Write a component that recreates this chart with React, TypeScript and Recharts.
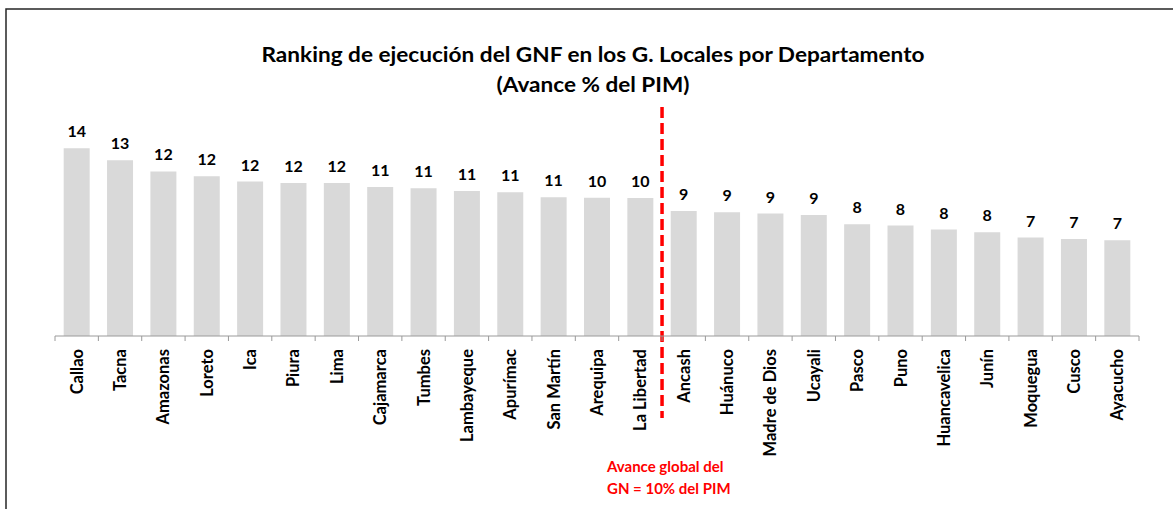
import React from "react";
import { Bar, BarChart, LabelList, ReferenceLine, XAxis, YAxis } from "recharts";

const departamentos = [
  "Callao", "Tacna", "Amazonas", "Loreto", "Ica", "Piura", "Lima", "Cajamarca",
  "Tumbes", "Lambayeque", "Apurímac", "San Martín", "Arequipa", "La Libertad",
  "Ancash", "Huánuco", "Madre de Dios", "Ucayali", "Pasco", "Puno",
  "Huancavelica", "Junín", "Moquegua", "Cusco", "Ayacucho",
];

const avance = [
  14.24, 13.33, 12.48, 12.12, 11.71, 11.61, 11.6, 11.3,
  11.2, 11.0, 10.9, 10.52, 10.48, 10.47,
  9.48, 9.38, 9.28, 9.18, 8.47, 8.37,
  8.07, 7.87, 7.46, 7.36, 7.26,
];

// último departamento por encima del avance global del GN
const corte = "La Libertad";
const notaCorte = ["Avance global del", "GN = 10% del PIM"];
const titulo = [
  "Ranking de ejecución del GNF en los G. Locales por Departamento",
  "(Avance % del PIM)",
];

const data = departamentos.map((name, i) => ({ name, value: avance[i] }));

const W = 1173;
const H = 509;
const MARGIN = { top: 125, right: 34, bottom: 0, left: 55 };
const BAND = (W - MARGIN.left - MARGIN.right) / departamentos.length;
const AXIS = "#9a9a9a";
const FONT = "Lato, 'Open Sans', sans-serif";

function DeptTick(props: any) {
  const { x, y, payload, index } = props;
  const ty = y + 13;
  return (
    <g>
      <line x1={x - BAND / 2} x2={x - BAND / 2} y1={y} y2={y + 5} stroke={AXIS} />
      {index === departamentos.length - 1 && (
        <line x1={x + BAND / 2} x2={x + BAND / 2} y1={y} y2={y + 5} stroke={AXIS} />
      )}
      <text
        x={x}
        y={ty}
        transform={`rotate(-90 ${x} ${ty})`}
        textAnchor="end"
        dominantBaseline="central"
        fontFamily={FONT}
        fontWeight={700}
        fontSize={16.5}
        fill="#000"
      >
        {payload.value}
      </text>
    </g>
  );
}

function CorteLine(props: any) {
  const { x1, y1, y2 } = props;
  const x = x1 + BAND / 2;
  const top = Math.min(y1, y2);
  const bottom = Math.max(y1, y2);
  return (
    <g>
      <line
        x1={x}
        x2={x}
        y1={top - 18}
        y2={bottom + 82}
        stroke="#ff0000"
        strokeWidth={3.5}
        strokeDasharray="11 5"
      />
      {notaCorte.map((t, i) => (
        <text
          key={t}
          x={x - 55}
          y={bottom + 136 + i * 22}
          fontFamily={FONT}
          fontWeight={700}
          fontSize={15}
          fill="#ff0000"
        >
          {t}
        </text>
      ))}
    </g>
  );
}

export default function App() {
  return (
    <div style={{ position: "absolute", left: 0, top: 0, width: W, height: H, background: "#fff" }}>
      <BarChart width={W} height={H} data={data} margin={MARGIN} barCategoryGap="20%">
        <YAxis hide domain={[0, 16]} />
        <XAxis
          dataKey="name"
          interval={0}
          height={173}
          tickSize={0}
          tickMargin={0}
          tickLine={false}
          axisLine={{ stroke: AXIS }}
          tick={<DeptTick />}
        />
        <Bar dataKey="value" fill="#d9d9d9" isAnimationActive={false}>
          <LabelList
            dataKey="value"
            position="top"
            offset={11}
            formatter={(v: any) => Math.round(Number(v))}
            style={{ fontFamily: FONT, fontWeight: 700, fontSize: 16, fill: "#000" }}
          />
        </Bar>
        <ReferenceLine x={corte} ifOverflow="visible" shape={<CorteLine />} />
      </BarChart>
      <svg
        width={W}
        height={H}
        style={{ position: "absolute", left: 0, top: 0, pointerEvents: "none" }}
      >
        <path d={`M6,${H} L6,9 L${W},9`} fill="none" stroke="#262626" strokeWidth={1.5} />
        <text
          x={593}
          y={62}
          textAnchor="middle"
          fontFamily={FONT}
          fontWeight={700}
          fontSize={20}
          textLength={663}
          lengthAdjust="spacingAndGlyphs"
        >
          {titulo[0]}
        </text>
        <text
          x={593}
          y={92}
          textAnchor="middle"
          fontFamily={FONT}
          fontWeight={700}
          fontSize={20}
          textLength={193}
          lengthAdjust="spacingAndGlyphs"
        >
          {titulo[1]}
        </text>
      </svg>
    </div>
  );
}
